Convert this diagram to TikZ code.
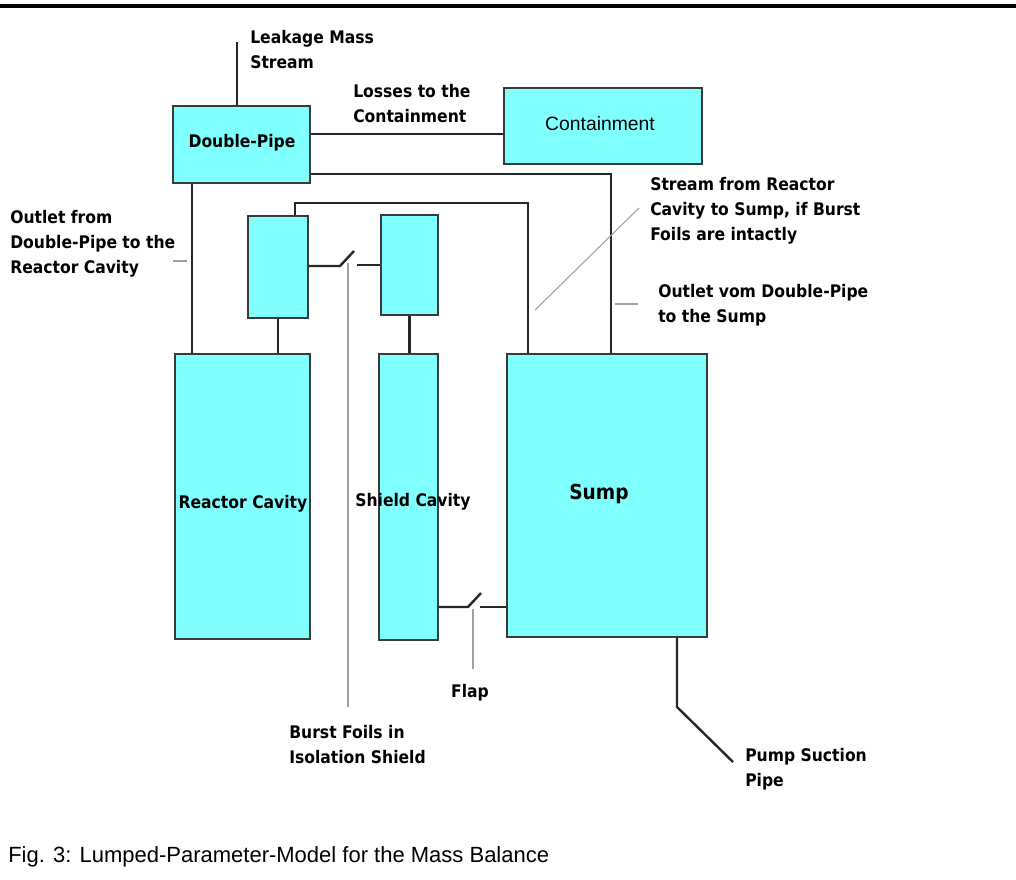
\documentclass[tikz,border=0pt]{standalone}
\usepackage{fontspec}
\setmainfont{Liberation Sans}
\newfontfamily\tahfont{DejaVu Sans Condensed}
\usetikzlibrary{fit}
\definecolor{cyanfill}{HTML}{80FFFF}
\definecolor{rim}{HTML}{3A3A3A}
\definecolor{leadgray}{HTML}{A0A0A0}

\begin{document}
\begin{tikzpicture}[x=0.75pt,y=-0.75pt,
  tank/.style={draw=rim,line width=1.1pt,fill=cyanfill,inner sep=0pt},
  tanktext/.style={font=\tahfont\bfseries\fontsize{13}{16}\selectfont,inner sep=0pt},
  pipe/.style={line width=1.8pt,black!85},
  leader/.style={line width=0.8pt,leadgray},
  note/.style={font=\tahfont\bfseries\fontsize{13}{18.75}\selectfont,
    align=left,anchor=north west,inner sep=0pt}]
  \useasboundingbox (0,0) rectangle (1016,879);
  % top rule
  \fill (0,3.5) rectangle (1016,7.5);

  % vessels
  \node[tank,fit={(173,106)(310,183)}] (dp) {};
  \node[tank,fit={(504,88)(702,164)}] (cont) {};
  \node[tank,fit={(248,216)(308,318)}] (rtop) {};
  \node[tank,fit={(381,215)(438,315)}] (stop) {};
  \node[tank,fit={(175,354)(310,639)}] (rc) {};
  \node[tank,fit={(379,354)(438,640)}] (sc) {};
  \node[tank,fit={(507,354)(707,637)}] (sump) {};
  \node[tanktext] (dplabel) at (242,143) {Double-Pipe};
  \node[inner sep=0pt,font=\fontsize{14.5}{17}\selectfont] (contlabel) at (600,124) {Containment};
  \node[tanktext] (rclabel) at (243,504) {Reactor Cavity};
  \node[tanktext] (sclabel) at (413,502) {Shield Cavity};
  \node[tanktext,font=\tahfont\bfseries\fontsize{15.5}{18}\selectfont] (sumplabel) at (599,494) {Sump};

  % helper points
  \coordinate (leak) at (237,42);
  \coordinate (loss) at (0,134);
  \coordinate (dsump) at (611,174);
  \coordinate (drc) at (192,0);
  \coordinate (rsl) at (295,203);
  \coordinate (rsr) at (528,203);
  \coordinate (foilA) at (340,266);
  \coordinate (foilB) at (354,251);
  \coordinate (foilC) at (357,265);
  \coordinate (flapA) at (468,607);
  \coordinate (flapB) at (481,593);
  \coordinate (flapC) at (480,607);
  \coordinate (pumpA) at (677,707);
  \coordinate (pumpB) at (733,762);

  % pipes
  \draw[pipe] (dp.north -| leak) -- (leak);
  \draw[pipe] (dp.east |- loss) -- (cont.west |- loss);
  \draw[pipe] (dp.east |- dsump) -- (dsump) -- (sump.north -| dsump);
  \draw[pipe] (dp.south -| drc) -- (rc.north -| drc);
  \draw[pipe] (rtop.south) -- (rtop.south |- rc.north);
  \draw[pipe] (rtop.north -| rsl) -- (rsl) -- (rsr) -- (sump.north -| rsr);
  \draw[pipe] (stop.south) -- (stop.south |- sc.north);
  % burst foils
  \draw[pipe] (rtop.east |- foilA) -- (foilA) -- (foilB);
  \draw[pipe] (foilC) -- (stop.west |- foilC);
  % flap
  \draw[pipe] (sc.east |- flapA) -- (flapA) -- (flapB);
  \draw[pipe] (flapC) -- (sump.west |- flapC);
  % pump suction
  \draw[pipe] (sump.south -| pumpA) -- (pumpA) -- (pumpB);

  % notes
  \node[note] (nleak) at (250,30) {Leakage Mass\\Stream};
  \node[note] (nloss) at (353,84) {Losses to the\\Containment};
  \node[note] (nstream) at (650,177) {Stream from Reactor\\Cavity to Sump, if Burst\\Foils are intactly};
  \node[note] (nosump) at (658,284) {Outlet vom Double-Pipe\\to the Sump};
  \node[note] (norc) at (10,210) {Outlet from\\Double-Pipe to the\\Reactor Cavity};
  \node[note] (nfoil) at (289,725) {Burst Foils in\\Isolation Shield};
  \node[note,anchor=north] (nflap) at (470,684) {Flap};
  \node[note] (npump) at (745,748) {Pump Suction\\Pipe};

  % leader lines
  \draw[leader] (348,263) -- (348,707);
  \draw[leader] (473,609) -- (473,669);
  \draw[leader] (535,310) -- (639,208);
  \draw[leader] (615,304) -- (638,304);
  \draw[leader] (173,261) -- (187,261);

  % caption
  \node[anchor=base west,inner sep=0pt,font=\fontsize{16.5}{19}\selectfont] (caption) at (8,862)
    {Fig. 3: Lumped-Parameter-Model for the Mass Balance};
\end{tikzpicture}
\end{document}
